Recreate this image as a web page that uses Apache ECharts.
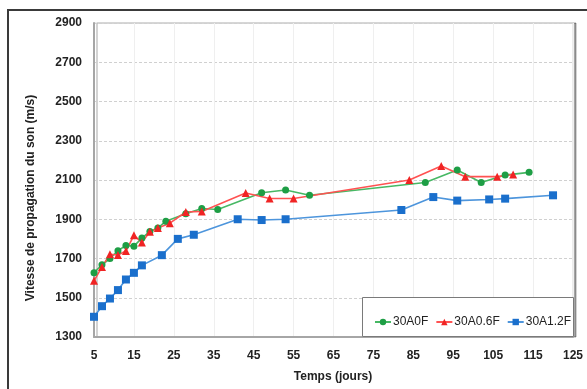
<!DOCTYPE html>
<html>
<head>
<meta charset="utf-8">
<script src="https://cdn.jsdelivr.net/npm/echarts@6/dist/echarts.min.js"></script>
<style>html,body{margin:0;padding:0;background:#fff}#c{width:587px;height:389px}</style>
</head>
<body>
<div id="c"></div>
<script>
// Data
var seriesNames = ['30A0F', '30A0.6F', '30A1.2F'];

var days30A0F = [5, 7, 9, 11, 13, 15, 17, 19, 21, 23, 28, 32, 36, 47, 53, 59, 88, 96, 102, 108, 114];
var vel30A0F  = [1628, 1668, 1700, 1740, 1766, 1763, 1804, 1838, 1855, 1890, 1928, 1955, 1950, 2035, 2049, 2022, 2087, 2151, 2087, 2125, 2139];

var days30A06F = [5, 7, 9, 11, 13, 15, 17, 19, 21, 24, 28, 32, 43, 49, 55, 84, 92, 98, 106, 110];
var vel30A06F  = [1586, 1657, 1722, 1718, 1738, 1818, 1782, 1836, 1855, 1880, 1937, 1940, 2034, 2006, 2006, 2100, 2171, 2117, 2117, 2128];

var days30A12F = [5, 7, 9, 11, 13, 15, 17, 22, 26, 30, 41, 47, 53, 82, 90, 96, 104, 108, 120];
var vel30A12F  = [1403, 1457, 1496, 1539, 1593, 1627, 1665, 1717, 1800, 1821, 1900, 1896, 1900, 1947, 2013, 1995, 2001, 2005, 2022];

var xTitle = 'Temps (jours)';
var yTitle = 'Vitesse de propagation du son (m/s)';

function pairs(xs, ys) { return xs.map(function (x, i) { return [x, ys[i]]; }); }

var FONT = '"Liberation Sans", Arial, sans-serif';
var chart = echarts.init(document.getElementById('c'), null, {renderer: 'canvas'});

function mk(name, xs, ys, symbol, size, markColor, lineColor) {
  return {
    name: name, type: 'line', data: pairs(xs, ys),
    symbol: symbol, symbolSize: size, showSymbol: true,
    itemStyle: {color: markColor},
    lineStyle: {color: lineColor, width: 1.6},
    emphasis: {disabled: true},
    animation: false
  };
}

chart.setOption({
  animation: false,
  grid: {left: 94, top: 23, right: 14, bottom: 52, show: true, borderColor: '#d8d8d8', borderWidth: 1,
         shadowColor: 'rgba(0,0,0,0.35)', shadowBlur: 0, shadowOffsetX: 3, shadowOffsetY: 0, backgroundColor: '#fff'},
  xAxis: {
    type: 'value', min: 5, max: 125, interval: 10,
    axisLine: {show: true, lineStyle: {color: '#a6a6a6', width: 2}},
    axisTick: {show: false},
    axisLabel: {color: '#222', fontSize: 12, fontWeight: 'bold', fontFamily: FONT, margin: 13,
                formatter: function (v) { return String(v); }},
    splitLine: {show: true, lineStyle: {color: '#efefef', width: 1}}
  },
  yAxis: {
    type: 'value', min: 1300, max: 2900, interval: 200,
    axisLine: {show: true, lineStyle: {color: '#a6a6a6', width: 2}},
    axisTick: {show: false},
    axisLabel: {color: '#222', fontSize: 12, fontWeight: 'bold', fontFamily: FONT, margin: 12,
                formatter: function (v) { return String(v); }},
    splitLine: {show: true, lineStyle: {color: '#d0d0d0', width: 1, type: [3, 2]}}
  },
  legend: {
    data: seriesNames, left: 369, top: 311, itemWidth: 16, itemHeight: 8, itemGap: 7,
    textStyle: {color: '#222', fontSize: 12, fontFamily: FONT, padding: [0, 0, 0, -3]},
    z: 10
  },
  graphic: [
    {type: 'rect', z: 100, shape: {x: 8, y: 10, width: 700, height: 500}, style: {fill: 'none', stroke: '#3a3a3a', lineWidth: 2}},
    {type: 'rect', z: 5, shape: {x: 362.5, y: 297.5, width: 211, height: 39}, style: {fill: '#fff', stroke: '#7a7a7a', lineWidth: 1}},
    {type: 'text', z: 10, x: 31, y: 198, rotation: Math.PI / 2,
     style: {text: yTitle, font: 'bold 12px ' + FONT, fill: '#222', textAlign: 'center', textVerticalAlign: 'middle'}},
    {type: 'text', z: 10, x: 333, y: 377,
     style: {text: xTitle, font: 'bold 12px ' + FONT, fill: '#222', textAlign: 'center', textVerticalAlign: 'middle'}}
  ],
  series: [
    mk(seriesNames[0], days30A0F, vel30A0F, 'circle', 7, '#1e9e45', '#47b864'),
    mk(seriesNames[1], days30A06F, vel30A06F, 'triangle', 8, '#f02424', '#ff5252'),
    mk(seriesNames[2], days30A12F, vel30A12F, 'rect', 8, '#1a6fcc', '#4d95dc')
  ]
});
</script>
</body>
</html>
